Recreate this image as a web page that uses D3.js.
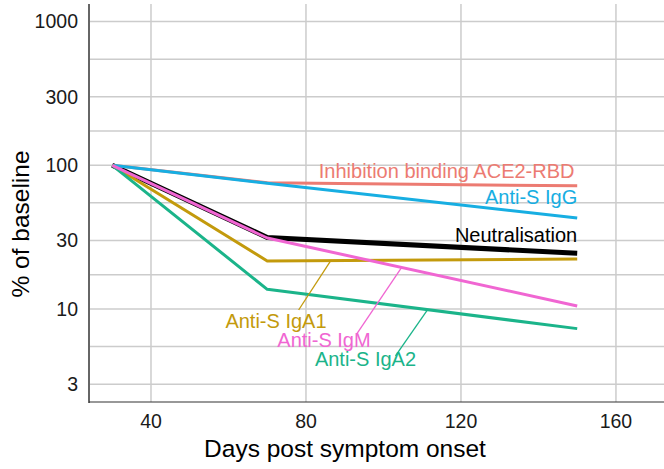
<!DOCTYPE html>
<html>
<head>
<meta charset="utf-8">
<script src="https://d3js.org/d3.v7.min.js"></script>
<style>
body { margin: 0; padding: 0; background: #fff; }
svg { display: block; font-family: "Liberation Sans", Arial, sans-serif; }
.grid line { stroke: #cccccc; stroke-width: 1.5; }
.tick-label { fill: #1a1a1a; font-size: 19.5px; }
</style>
</head>
<body>
<script>
// data
var days = [30, 70, 150];
var ace2 = [100, 75.5, 72];
var iggVals = [100, 75, 43];
var neut = [100, 31.5, 24.4];
var iga1 = [100, 21.6, 22.3];
var igm = [100, 31.2, 10.5];
var iga2 = [100, 13.7, 7.3];

var xTicks = [40, 80, 120, 160];
var yTicks = [3, 10, 30, 100, 300, 1000];

var series = [
  {name: "Neutralisation", vals: neut, color: "#000000", w: 5},
  {name: "Inhibition binding ACE2-RBD", vals: ace2, color: "#ec7b72", w: 3},
  {name: "Anti-S IgG", vals: iggVals, color: "#17aee2", w: 3},
  {name: "Anti-S IgA1", vals: iga1, color: "#c39a0c", w: 3},
  {name: "Anti-S IgA2", vals: iga2, color: "#1bb48a", w: 3},
  {name: "Anti-S IgM", vals: igm, color: "#f066d2", w: 3}
];

// label placement (day, value); leader: label-side point and day on the line
var labels = [
  {name: "Inhibition binding ACE2-RBD", day: 149.3, val: 81, anchor: "end"},
  {name: "Anti-S IgG", day: 150, val: 53.5, anchor: "end"},
  {name: "Neutralisation", day: 150, val: 29.2, anchor: "end"},
  {name: "Anti-S IgA1", day: 59.2, val: 7.4, anchor: "start", from: [78.1, 9.84], to: 86.4},
  {name: "Anti-S IgM", day: 72.6, val: 5.4, anchor: "start", from: [93.2, 6.77], to: 104.7},
  {name: "Anti-S IgA2", day: 82.3, val: 4.0, anchor: "start", from: [103.1, 4.71], to: 111.4}
];

var W = 664, H = 469;
var padL = 89, padR = 664, padT = 4, padB = 402;

var x = d3.scaleLinear().domain([24, 172.4]).range([padL, padR]);
var y = d3.scaleLog().domain([2.253, 1326]).range([padB, padT]);

var svg = d3.select("body").append("svg")
  .attr("width", W).attr("height", H);

// minor breaks half-way (in log space) between majors
var minor = [];
for (var i = 0; i < yTicks.length - 1; i++) {
  minor.push(Math.sqrt(yTicks[i] * yTicks[i + 1]));
}

var grid = svg.append("g").attr("class", "grid");
grid.selectAll(".hmin").data(minor).enter().append("line")
  .attr("x1", padL).attr("x2", padR)
  .attr("y1", function (d) { return y(d); })
  .attr("y2", function (d) { return y(d); });
grid.selectAll(".hmaj").data(yTicks).enter().append("line")
  .attr("x1", padL).attr("x2", padR)
  .attr("y1", function (d) { return y(d); })
  .attr("y2", function (d) { return y(d); });
grid.selectAll(".v").data(xTicks).enter().append("line")
  .attr("y1", padT).attr("y2", padB)
  .attr("x1", function (d) { return x(d); })
  .attr("x2", function (d) { return x(d); });

// axis lines
svg.append("line").attr("x1", padL).attr("x2", padL)
  .attr("y1", padT).attr("y2", padB + 1)
  .attr("stroke", "#666").attr("stroke-width", 2);
svg.append("line").attr("x1", padL).attr("x2", padR)
  .attr("y1", padB).attr("y2", padB)
  .attr("stroke", "#333").attr("stroke-width", 1.2);

// tick labels
svg.selectAll(".yl").data(yTicks).enter().append("text")
  .attr("class", "tick-label")
  .attr("x", 78).attr("y", function (d) { return y(d); })
  .attr("dy", "0.35em").attr("text-anchor", "end")
  .text(function (d) { return d; });
svg.selectAll(".xl").data(xTicks).enter().append("text")
  .attr("class", "tick-label")
  .attr("x", function (d) { return x(d); }).attr("y", 428)
  .attr("text-anchor", "middle")
  .text(function (d) { return d; });

// axis titles
svg.append("text").attr("x", 345).attr("y", 457)
  .attr("text-anchor", "middle").attr("font-size", 24.5).attr("fill", "#000")
  .text("Days post symptom onset");
svg.append("text")
  .attr("transform", "translate(29,224) rotate(-90)")
  .attr("text-anchor", "middle").attr("font-size", 24.5).attr("fill", "#000")
  .text("% of baseline");

// lines
var line = d3.line()
  .x(function (d, i) { return x(days[i]); })
  .y(function (d) { return y(d); });

svg.selectAll(".series").data(series).enter().append("path")
  .attr("d", function (s) { return line(s.vals); })
  .attr("fill", "none")
  .attr("stroke", function (s) { return s.color; })
  .attr("stroke-width", function (s) { return s.w; })
  .attr("stroke-linejoin", "round");

// value on a series at a given day (log-linear between points)
function valueAt(vals, d) {
  for (var i = 0; i < days.length - 1; i++) {
    if (d >= days[i] && d <= days[i + 1]) {
      var t = (d - days[i]) / (days[i + 1] - days[i]);
      return Math.exp(Math.log(vals[i]) * (1 - t) + Math.log(vals[i + 1]) * t);
    }
  }
  return vals[vals.length - 1];
}

var colorOf = {};
var valsOf = {};
series.forEach(function (s) { colorOf[s.name] = s.color; valsOf[s.name] = s.vals; });

labels.forEach(function (l) {
  if (l.from) {
    svg.append("line")
      .attr("x1", x(l.from[0])).attr("y1", y(l.from[1]))
      .attr("x2", x(l.to)).attr("y2", y(valueAt(valsOf[l.name], l.to)))
      .attr("stroke", colorOf[l.name]).attr("stroke-width", 1.3);
  }
  svg.append("text")
    .attr("x", x(l.day)).attr("y", y(l.val))
    .attr("text-anchor", l.anchor)
    .attr("font-size", 20)
    .attr("fill", colorOf[l.name])
    .text(l.name);
});
</script>
</body>
</html>
